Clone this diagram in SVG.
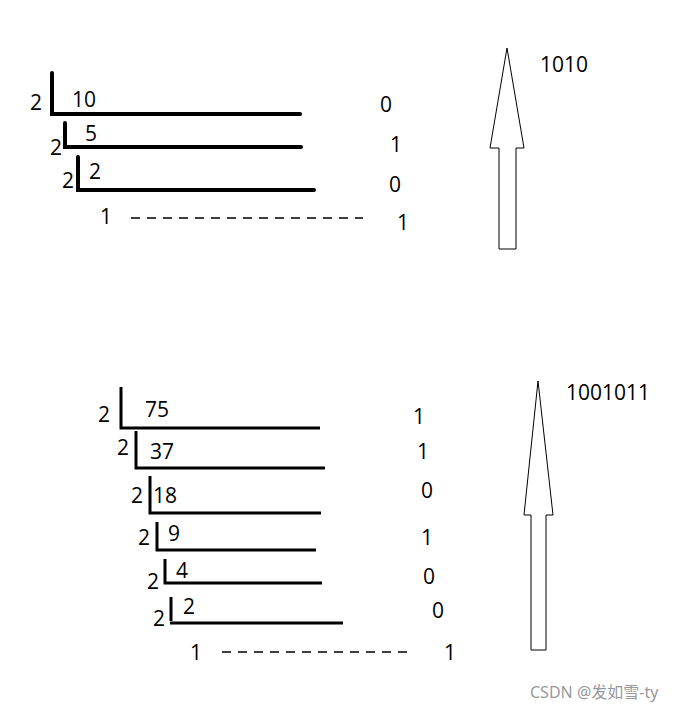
<svg xmlns="http://www.w3.org/2000/svg" width="698" height="711" viewBox="0 0 698 711">
<style>
text{font-family:"Open Sans","Noto Sans",sans-serif;font-size:21px;fill:#000}
.t{stroke:#000;stroke-width:4;fill:none;stroke-linecap:round}
.m{stroke:#000;stroke-width:3;fill:none}
.d{stroke:#000;stroke-width:1.3;stroke-dasharray:9,7;fill:none}
.a{fill:#fff;stroke:#000;stroke-width:1}
.w{font-family:"Noto Sans","Noto Sans CJK SC",sans-serif;font-size:16px;fill:#999}
</style>
<rect width="698" height="711" fill="#fff"/>
<g id="top">
<path class="t" d="M52,73V114H300M65,123V147H301M78,157V190H314"/>
<text x="30" y="110">2</text><text x="72" y="107">10</text><text x="380" y="112">0</text>
<text x="50" y="155">2</text><text x="85" y="141">5</text><text x="390" y="152">1</text>
<text x="62" y="188">2</text><text x="89" y="179">2</text><text x="389" y="192">0</text>
<text x="100" y="224">1</text><text x="397" y="230">1</text>
<path class="d" d="M131,218H363"/>
</g>
<g id="bottom">
<path class="m" d="M121,387V428H320M136,431V468H325M150,476V513H321M157,522V550H316M165,559V583H322M171,597V621M170,623H343"/>
<text x="98" y="422">2</text><text x="145" y="417">75</text><text x="413" y="424">1</text>
<text x="117" y="455">2</text><text x="150" y="459">37</text><text x="417" y="459">1</text>
<text x="131" y="503">2</text><text x="153" y="503">18</text><text x="421" y="498">0</text>
<text x="138" y="545">2</text><text x="168" y="541">9</text><text x="421" y="545">1</text>
<text x="147" y="589">2</text><text x="176" y="578">4</text><text x="423" y="584">0</text>
<text x="153" y="626">2</text><text x="183" y="614">2</text><text x="432" y="618">0</text>
<text x="190" y="660">1</text><text x="444" y="660">1</text>
<path class="d" d="M222,652H414"/>
</g>
<g id="arrows">
<path class="a" d="M507,48L524,148H516V249H499V148H490Z"/>
<text x="540" y="72">1010</text>
<path class="a" d="M538,381L553,515H546V650H531V515H524Z"/>
<text x="566" y="400">1001011</text>
</g>
<text class="w" x="530" y="698">CSDN @发如雪-ty</text>
</svg>
